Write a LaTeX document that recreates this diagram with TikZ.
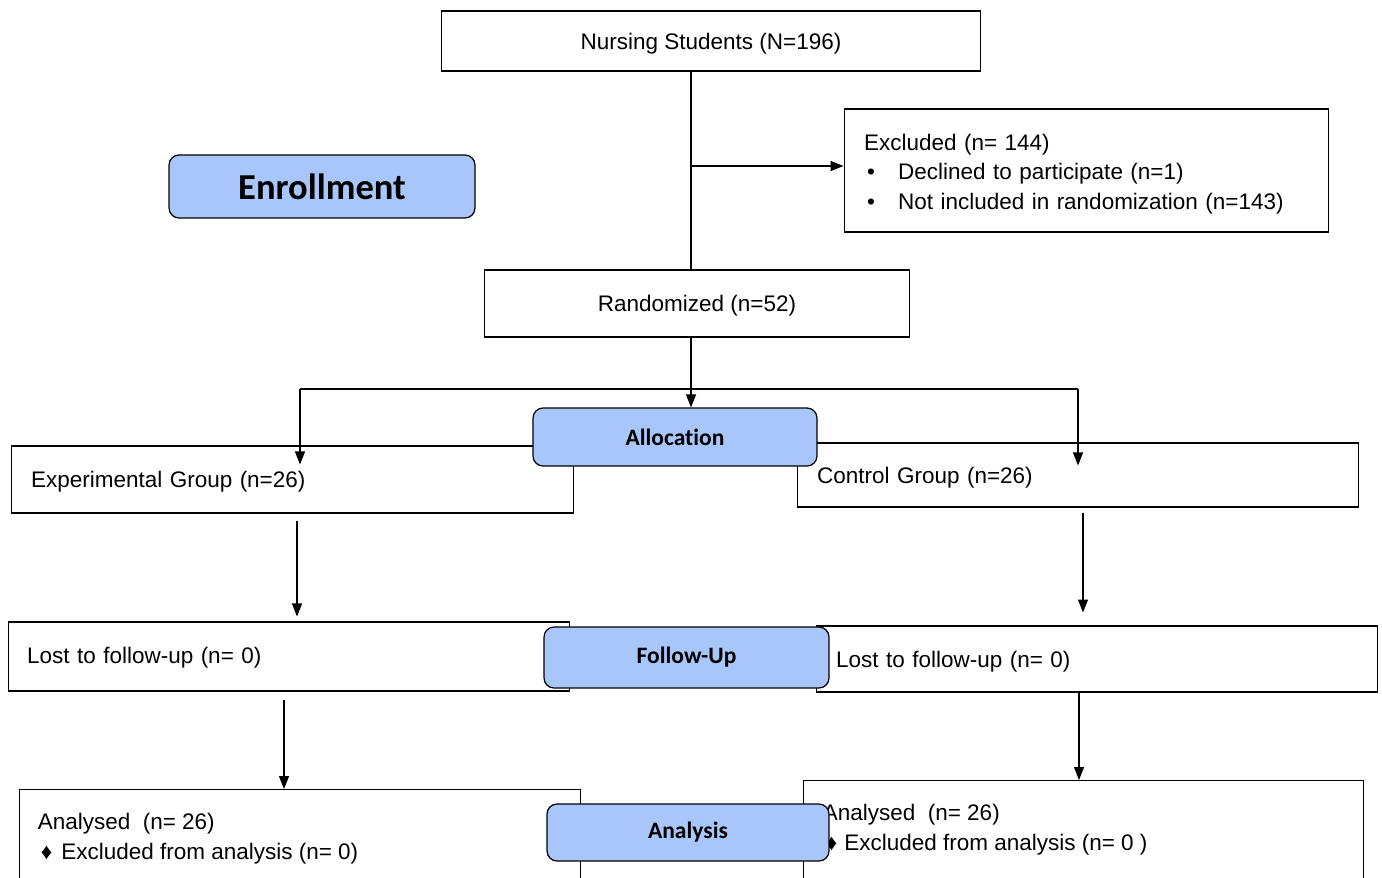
\documentclass[tikz,border=0pt]{standalone}
\usepackage{fontspec}
\setmainfont{Liberation Sans}
\newfontfamily\headfont[Ligatures={NoCommon}]{Carlito}
\usepackage{tikz}
\usetikzlibrary{arrows.meta,positioning,calc}
\definecolor{phaseblue}{HTML}{A9C6FA}
\pgfdeclarelayer{front}
\pgfsetlayers{main,front}

\begin{document}
\begin{tikzpicture}[
    x=0.02cm, y=-0.02cm,
    font=\fontsize{12.8}{17}\selectfont,
    box/.style={rectangle, draw=black, fill=white, line width=0.6pt, inner sep=0pt},
    leftbox/.style={box, align=left, inner xsep=0.4cm},
    phase/.style={rectangle, draw=black, fill=phaseblue, rounded corners=0.2cm, line width=0.7pt, font=\headfont\bfseries\fontsize{13.4}{15}\selectfont},
    txt/.style={align=left, inner sep=0pt},
    arrow/.style={-{Triangle[length=0.26cm,width=0.2cm]}, line width=0.6pt},
    line/.style={line width=0.6pt}
]
\useasboundingbox (0,0) rectangle (1382,877);

% Phase labels (on top of the boxes)
\begin{pgfonlayer}{front}
\node[phase, minimum width=6.12cm, minimum height=1.26cm, font=\headfont\bfseries\fontsize{20.8}{23}\selectfont] (enroll) at (322,186.5) {Enrollment};
\node[phase, minimum width=5.68cm, minimum height=1.16cm] (alloc) at (675,437) {Allocation};
\node[phase, minimum width=5.7cm, minimum height=1.22cm] (follow) at (686.5,657.5) {Follow-Up};
\node[phase, minimum width=5.64cm, minimum height=1.14cm] (analysis) at (688,832.5) {Analysis};
\end{pgfonlayer}

% Enrollment
\node[box, minimum width=10.8cm, minimum height=1.2cm, text depth=0pt] (nurse) at (711,41) {Nursing Students (N=196)};
\node[leftbox, text width=8.9cm, minimum height=2.46cm, text height=0.47cm] (excl) at (1086.5,170.5) {Excluded (n= 144)\\
\makebox[0.68cm][l]{\hspace{0.06cm}\textbullet}Declined to participate (n=1)\\
\makebox[0.68cm][l]{\hspace{0.06cm}\textbullet}Not included in randomization (n=143)};
\node[box, minimum width=8.52cm, minimum height=1.34cm, text depth=0.02cm] (rand) at (697,303.5) {Randomized (n=52)};

% Allocation
\node[leftbox, text width=10.46cm, minimum height=1.34cm, text depth=0.02cm] (exp) at (292.5,479.5) {Experimental Group (n=26)};
\node[leftbox, text width=10.44cm, minimum height=1.28cm, text depth=-0.04cm] (ctrl) at (1078,475) {Control Group (n=26)};

% Follow-Up
\node[leftbox, inner xsep=0.38cm, text width=10.48cm, minimum height=1.38cm, text depth=0.06cm] (lostL) at (289,656.5) {Lost to follow-up (n= 0)};
\node[leftbox, text width=10.44cm, minimum height=1.32cm, text depth=0pt] (lostR) at (1097,659) {Lost to follow-up (n= 0)};

% Analysis
\node[box, minimum width=11.24cm, minimum height=3.4cm, anchor=north] (anaL) at (300,789) {};
\node[txt, anchor=north west] (anaLtxt) at ([xshift=0.38cm,yshift=-0.48cm]anaL.north west) {Analysed\ \ (n= 26)\\
\hspace{0.06cm}\char"2666\hspace{0.18cm}Excluded from analysis (n= 0)};
\node[box, minimum width=11.22cm, minimum height=3.4cm, anchor=north] (anaR) at (1083.5,780) {};
\node[txt, anchor=north west] (anaRtxt) at ([xshift=0.4cm,yshift=-0.48cm]anaR.north west) {Analysed\ \ (n= 26)\\
\hspace{0.06cm}\char"2666\hspace{0.14cm}Excluded from analysis (n= 0 )};

% Connections
\coordinate (split) at (691,166);
\coordinate (brL) at (300,389);
\coordinate (brR) at (1078,389);
\draw[line] (nurse.south -| split) -- (split |- rand.north);
\draw[arrow] (split) -- (split -| excl.west);
\draw[arrow] (split |- rand.south) -- (split |- alloc.north);
\draw[line] (brL) -- (brR);
\draw[arrow] (brL) -- ([yshift=-0.38cm]exp.north -| brL);
\draw[arrow] (brR) -- ([yshift=-0.46cm]ctrl.north -| brR);
\draw[arrow, shorten <=0.14cm, shorten >=0.1cm] ([xshift=0.09cm]exp.south) -- ([xshift=0.09cm]exp.south |- lostL.north);
\draw[arrow, shorten <=0.1cm, shorten >=0.26cm] ([xshift=0.1cm]ctrl.south) -- ([xshift=0.1cm]ctrl.south |- lostR.north);
\draw[arrow, shorten <=0.16cm] ([xshift=-0.1cm]lostL.south) -- ([xshift=-0.1cm]lostL.south |- anaL.north);
\draw[arrow] ([xshift=-0.36cm]lostR.south) -- ([xshift=-0.36cm]lostR.south |- anaR.north);

\end{tikzpicture}
\end{document}
